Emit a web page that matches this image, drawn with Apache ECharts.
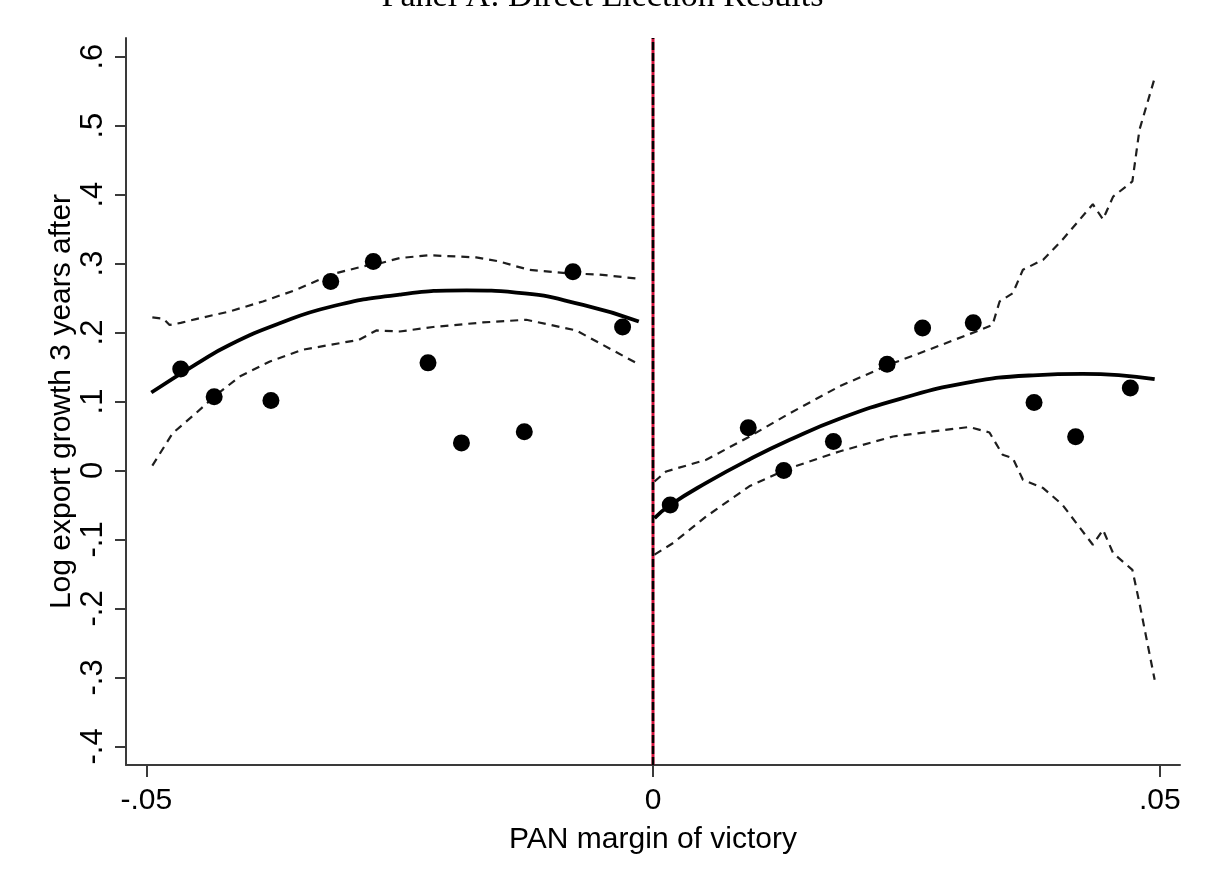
<!DOCTYPE html>
<html>
<head>
<meta charset="utf-8">
<script src="https://cdn.jsdelivr.net/npm/echarts@6/dist/echarts.min.js"></script>
<style>
html,body{margin:0;padding:0;background:#fff;}
#chart{width:1205px;height:880px;}
</style>
</head>
<body>
<div id="chart"></div>
<script>
// ---- Data ----
const titleText = 'Panel A: Direct Election Results';
const xAxisName = 'PAN margin of victory';
const yAxisName = 'Log export growth 3 years after';

const xTickValues = [-0.05, 0, 0.05];
const xTickLabels = ['-.05', '0', '.05'];
const yTickValues = [-0.4, -0.3, -0.2, -0.1, 0, 0.1, 0.2, 0.3, 0.4, 0.5, 0.6];
const yTickLabels = ['-.4', '-.3', '-.2', '-.1', '0', '.1', '.2', '.3', '.4', '.5', '.6'];

const xMin = -0.052, xMax = 0.052;
const yMin = -0.427, yMax = 0.627;

// binned means, left of cutoff
const leftBinX = [-0.0466, -0.0433, -0.0377, -0.0318, -0.0276, -0.0222, -0.0189, -0.0127, -0.0079, -0.0030];
const leftBinY = [0.147, 0.107, 0.1015, 0.274, 0.303, 0.156, 0.040, 0.056, 0.288, 0.208];
// binned means, right of cutoff
const rightBinX = [0.0017, 0.0094, 0.0129, 0.0178, 0.0231, 0.0266, 0.0316, 0.0376, 0.0417, 0.0471];
const rightBinY = [-0.050, 0.062, 0.000, 0.042, 0.154, 0.2065, 0.214, 0.0986, 0.049, 0.1195];

// fitted curves
const leftFit = [[-0.0495,0.113],[-0.0450,0.155],[-0.0418,0.182],[-0.0369,0.213],[-0.0319,0.237],[-0.0250,0.255],[-0.0184,0.261],[-0.0135,0.258],[-0.0069,0.240],[-0.0014,0.216]];
const rightFit = [[0.00015,-0.069],[0.0017,-0.050],[0.00525,-0.018],[0.0095,0.016],[0.0135,0.0445],[0.0184,0.075],[0.0243,0.1035],[0.0309,0.127],[0.0375,0.138],[0.0424,0.140],[0.0495,0.1325]];

// confidence bands
const leftUpper = [[-0.0494,0.222],[-0.0483,0.220],[-0.0477,0.211],[-0.0466,0.214],[-0.0451,0.2195],[-0.0418,0.2305],[-0.0385,0.245],[-0.0352,0.262],[-0.0318,0.284],[-0.0286,0.296],[-0.0270,0.300],[-0.0250,0.308],[-0.0221,0.312],[-0.01745,0.309],[-0.01515,0.303],[-0.0135,0.296],[-0.0122,0.291],[-0.00857,0.286],[-0.00528,0.284],[-0.0015,0.278]];
const leftLower = [[-0.0494,0.007],[-0.0474,0.054],[-0.0451,0.083],[-0.0433,0.107],[-0.0408,0.136],[-0.0378,0.158],[-0.0346,0.175],[-0.0290,0.1895],[-0.0273,0.203],[-0.0250,0.2015],[-0.0217,0.208],[-0.0168,0.2146],[-0.0125,0.2185],[-0.00758,0.203],[-0.00528,0.1847],[-0.0015,0.1547]];
const rightUpper = [[0.00015,-0.016],[0.0013,-0.0014],[0.00525,0.0155],[0.0095,0.049],[0.0135,0.083],[0.0184,0.122],[0.0237,0.1557],[0.0263,0.170],[0.0319,0.2015],[0.0335,0.211],[0.0342,0.245],[0.0355,0.257],[0.0365,0.291],[0.0385,0.3055],[0.0404,0.3345],[0.0434,0.386],[0.0444,0.364],[0.0454,0.397],[0.0473,0.419],[0.0480,0.494],[0.0495,0.569]];
const rightLower = [[0.00015,-0.122],[0.0020,-0.105],[0.00525,-0.0667],[0.0095,-0.023],[0.0135,0.0035],[0.0184,0.0276],[0.0237,0.0493],[0.0276,0.0566],[0.0312,0.063],[0.0332,0.0551],[0.0345,0.0228],[0.0355,0.018],[0.0365,-0.0135],[0.0385,-0.0255],[0.0404,-0.0497],[0.0434,-0.1077],[0.0444,-0.086],[0.0454,-0.1198],[0.0473,-0.144],[0.0480,-0.1923],[0.0495,-0.3035]];

const cutoff = 0;

// ---- Chart ----
const zip = (xs, ys) => xs.map((x, i) => [x, ys[i]]);
const labelFor = (vals, labs) => v => {
  for (let i = 0; i < vals.length; i++) if (Math.abs(vals[i] - v) < 1e-9) return labs[i];
  return '';
};
const sans = '"Liberation Sans", Arial, sans-serif';
const axisColor = '#3a3a3a';

const chart = echarts.init(document.getElementById('chart'), null, {renderer: 'canvas'});

const dashStyle = {color: '#1e1e1e', width: 2.2, type: [8, 6]};
const lineSeries = (data, style, z, smooth) => ({
  type: 'line', data, showSymbol: false, symbol: 'none', smooth: !!smooth,
  lineStyle: Object.assign({opacity: 1}, style), z, silent: true, animation: false
});

chart.setOption({
  animation: false,
  backgroundColor: '#fff',
  graphic: [{
    type: 'text', left: 'center', top: -20,
    style: {text: titleText, font: '34px "Liberation Serif", "Times New Roman", serif', fill: '#000'}
  }],
  grid: {left: 126, right: 25, top: 38, bottom: 115},
  xAxis: {
    type: 'value', min: xMin, max: xMax,
    axisLine: {show: true, onZero: false, lineStyle: {color: axisColor, width: 2}},
    axisTick: {show: true, customValues: xTickValues, length: 12, lineStyle: {color: axisColor, width: 2}},
    axisLabel: {customValues: xTickValues, formatter: labelFor(xTickValues, xTickLabels), fontSize: 30, fontFamily: sans, color: '#000', margin: 21},
    splitLine: {show: false},
    name: xAxisName, nameLocation: 'middle', nameGap: 60, nameMoveOverlap: false,
    nameTextStyle: {fontSize: 30, fontFamily: sans, color: '#000'}
  },
  yAxis: {
    type: 'value', min: yMin, max: yMax,
    axisLine: {show: true, onZero: false, lineStyle: {color: axisColor, width: 2}},
    axisTick: {show: true, customValues: yTickValues, length: 11, lineStyle: {color: axisColor, width: 2}},
    axisLabel: {customValues: yTickValues, formatter: labelFor(yTickValues, yTickLabels), rotate: 90, fontSize: 31, fontFamily: sans, color: '#000', margin: 17},
    splitLine: {show: false},
    name: yAxisName, nameLocation: 'middle', nameGap: 49, nameRotate: 90, nameMoveOverlap: false,
    nameTextStyle: {fontSize: 30, fontFamily: sans, color: '#000'}
  },
  series: [
    lineSeries([[cutoff, yMin], [cutoff, yMax]], {color: '#d3103c', width: 3, type: 'solid'}, 1),
    lineSeries([[cutoff, yMin], [cutoff, yMax]], {color: '#000', width: 2.5, type: [8, 3]}, 2),
    lineSeries(leftUpper, dashStyle, 3),
    lineSeries(leftLower, dashStyle, 3),
    lineSeries(rightUpper, dashStyle, 3),
    lineSeries(rightLower, dashStyle, 3),
    lineSeries(leftFit, {color: '#000', width: 3.8}, 4, true),
    lineSeries(rightFit, {color: '#000', width: 3.8}, 4, true),
    {type: 'scatter', data: zip(leftBinX, leftBinY), symbol: 'circle', symbolSize: 17, itemStyle: {color: '#000', opacity: 1}, z: 5, silent: true},
    {type: 'scatter', data: zip(rightBinX, rightBinY), symbol: 'circle', symbolSize: 17, itemStyle: {color: '#000', opacity: 1}, z: 5, silent: true}
  ]
});
</script>
</body>
</html>
